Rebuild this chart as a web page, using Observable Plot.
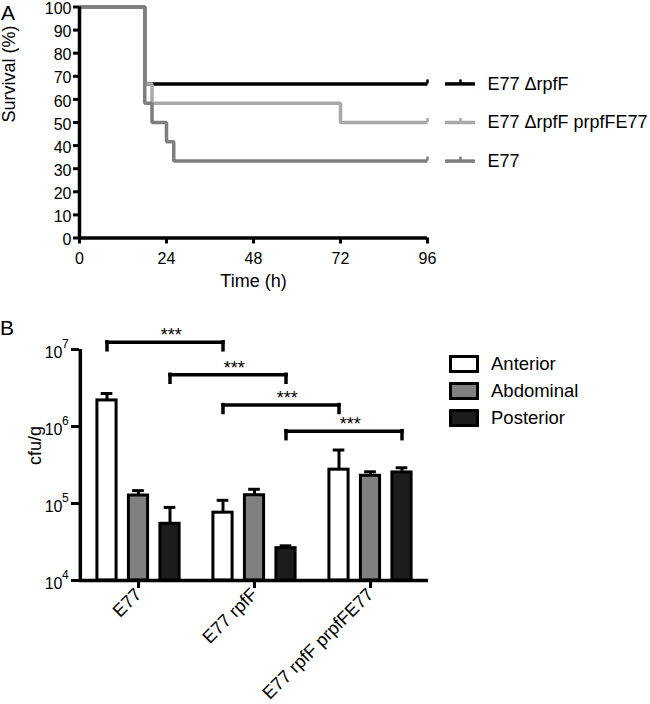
<!DOCTYPE html>
<html>
<head>
<meta charset="utf-8">
<script src="https://cdn.jsdelivr.net/npm/d3@7"></script>
<script src="https://cdn.jsdelivr.net/npm/@observablehq/plot@0.6"></script>
<style>
  body { margin: 0; background: #fff; font-family: "Liberation Sans", Arial, sans-serif; color: #000; }
  #wrap { position: relative; width: 650px; height: 704px; overflow: hidden; background: #fff; }
  #panelA { position: absolute; left: 0; top: 0; }
  #panelB { position: absolute; left: 0; top: 300px; }
  .plabel { position: absolute; font-size: 21px; line-height: 1; }
  .legrow { position: absolute; left: 449px; height: 18px; display: flex; align-items: center; }
  .sw { width: 30px; height: 18px; box-sizing: border-box; border: 3px solid #000; }
  .lt { margin-left: 12px; font-size: 18.5px; line-height: 18px; white-space: nowrap; }
</style>
</head>
<body>
<div id="wrap">
  <div class="plabel" style="left:1px;top:2px">A</div>
  <div id="panelA"></div>
  <div class="plabel" style="left:0px;top:317px">B</div>
  <div id="panelB"></div>
  <div id="legendB"></div>
</div>
<script>
// ---------- Panel A data: survival ----------
const survivalStrains = ["E77 ΔrpfF", "E77 ΔrpfF prpfFE77", "E77"];
const survivalColors = ["#000000", "#a9a9a9", "#7e7e7e"];
const timeRpfF = [0, 18, 96];
const survRpfF = [100, 66.7, 66.7];
const timeComp = [0, 18, 20, 72, 96];
const survComp = [100, 66.7, 58.3, 50, 50];
const timeE77 = [0, 18, 20, 24, 26, 96];
const survE77 = [100, 58.3, 50, 41.7, 33.3, 33.3];
const timeTicks = [0, 24, 48, 72, 96];
const survivalTicks = [0, 10, 20, 30, 40, 50, 60, 70, 80, 90, 100];

// ---------- Panel B data: cfu/g ----------
const groups = ["E77", "E77 rpfF", "E77 rpfF prpfFE77"];
const regions = ["Anterior", "Abdominal", "Posterior"];
const regionColors = ["#ffffff", "#808080", "#1c1c1c"];
const anteriorMean = [2.18e6, 7.6e4, 2.75e5];
const anteriorErr = [2.68e6, 1.10e5, 4.95e5];
const abdominalMean = [1.27e5, 1.28e5, 2.29e5];
const abdominalErr = [1.47e5, 1.53e5, 2.58e5];
const posteriorMean = [5.45e4, 2.63e4, 2.53e5];
const posteriorErr = [8.9e4, 2.82e4, 2.91e5];
const cfuTicks = [1e4, 1e5, 1e6, 1e7];
const bracketFrom = ["E77", "E77", "E77 rpfF", "E77 rpfF"];
const bracketTo = ["E77 rpfF", "E77 rpfF", "E77 rpfF prpfFE77", "E77 rpfF prpfFE77"];
const bracketRegion = ["Anterior", "Posterior", "Anterior", "Posterior"];
const bracketLevel = [1.24e7, 4.7e6, 1.9e6, 8.7e5];
const bracketLabel = ["***", "***", "***", "***"];

const FONT = '"Liberation Sans", Arial, sans-serif';

// ---------- Build panel A ----------
const seriesT = [timeRpfF, timeComp, timeE77];
const seriesS = [survRpfF, survComp, survE77];
const survRows = survivalStrains.flatMap((name, i) =>
  seriesT[i].map((t, j) => ({strain: name, t, s: seriesS[i][j]})));
const ends = survivalStrains.map((name, i) => ({
  strain: name,
  t: seriesT[i][seriesT[i].length - 1],
  s: seriesS[i][seriesS[i].length - 1]
}));

const plotA = Plot.plot({
  width: 650, height: 300,
  marginLeft: 79, marginRight: 223, marginTop: 6.5, marginBottom: 62.5,
  style: {fontFamily: FONT, fontSize: "16px", color: "#000", background: "transparent", overflow: "visible"},
  x: {domain: [0, 96], label: null},
  y: {domain: [0, 100], label: null},
  color: {domain: survivalStrains, range: survivalColors},
  marks: [
    Plot.axisY({ticks: survivalTicks, tickSize: 6, strokeWidth: 3, tickFormat: () => "", label: null}),
    Plot.axisY({ticks: survivalTicks, tickSize: 0, tickPadding: 8, dy: 2, label: null}),
    Plot.axisX({ticks: timeTicks, tickSize: 6, tickPadding: 9, strokeWidth: 3, label: null}),
    Plot.line(survRows, {x: "t", y: "s", z: "strain", stroke: "strain", curve: "step-after",
      strokeWidth: 3.5, strokeLinejoin: "miter", strokeLinecap: "butt"}),
    Plot.ruleX(ends, {x: "t", y1: "s", y2: "s", insetTop: -4, stroke: "strain", strokeWidth: 2.5}),
    // legend, aligned with the ends of the curves
    Plot.ruleY(ends, {y: "s", x1: "t", x2: "t", insetLeft: 18, insetRight: -48, stroke: "strain", strokeWidth: 3.5}),
    Plot.ruleX(ends, {x: "t", y1: "s", y2: "s", insetTop: -4, dx: 33, stroke: "strain", strokeWidth: 2.5}),
    Plot.text(ends, {x: "t", y: "s", text: "strain", dx: 60, textAnchor: "start", fontSize: 18, fill: "#000"}),
    Plot.ruleX([0], {strokeWidth: 3.5}),
    Plot.ruleY([0], {strokeWidth: 3.5}),
    Plot.text(["Time (h)"], {text: d => d, frameAnchor: "bottom", dy: 49, fontSize: 18}),
    Plot.text(["Survival (%)"], {text: d => d, frameAnchor: "left", dx: -70, rotate: -90, fontSize: 18})
  ]
});
document.getElementById("panelA").appendChild(plotA);

// ---------- Build panel B ----------
const means = [anteriorMean, abdominalMean, posteriorMean];
const errs = [anteriorErr, abdominalErr, posteriorErr];
const barRows = regions.flatMap((r, k) =>
  groups.map((g, i) => ({group: g, region: r, mean: means[k][i], err: errs[k][i]})));
const bk = bracketFrom.map((f, i) => ({from: f, to: bracketTo[i], region: bracketRegion[i], y: bracketLevel[i], label: bracketLabel[i]}));

const mlB = 79, mrB = 222;
const bw = (650 - mlB - mrB) / groups.length;
const offs = [-31.5, 0, 31.5];
const barW = 19.5, capW = 12;

const barMarks = regions.flatMap((r, k) => {
  const rows = barRows.filter(d => d.region === r);
  return [
    Plot.ruleX(rows, {x: "group", y1: "mean", y2: "err", dx: offs[k], strokeWidth: 3}),
    Plot.tickY(rows, {x: "group", y: "err", dx: offs[k], insetLeft: (bw - capW) / 2, insetRight: (bw - capW) / 2, strokeWidth: 3}),
    Plot.barY(rows, {x: "group", y1: 1e4, y2: "mean", dx: offs[k], fill: regionColors[k], stroke: "#000",
      strokeWidth: 3, insetLeft: (bw - barW) / 2, insetRight: (bw - barW) / 2})
  ];
});
const bracketMarks = regions.flatMap((r, k) => {
  const rows = bk.filter(d => d.region === r);
  if (!rows.length) return [];
  return [
    Plot.link(rows, {x1: "from", x2: "to", y1: "y", y2: "y", dx: offs[k], strokeWidth: 3.5, strokeLinecap: "square"}),
    Plot.ruleX(rows, {x: "from", y1: "y", y2: "y", insetBottom: -8, dx: offs[k], strokeWidth: 3.5, strokeLinecap: "square"}),
    Plot.ruleX(rows, {x: "to", y1: "y", y2: "y", insetBottom: -8, dx: offs[k], strokeWidth: 3.5, strokeLinecap: "square"}),
    Plot.text(rows, {x: "from", y: "y", text: "label", dx: offs[k] + bw / 2 + 6, dy: -1, lineAnchor: "bottom", fontSize: 18})
  ];
});

const plotB = Plot.plot({
  width: 650, height: 404,
  marginLeft: mlB, marginRight: mrB, marginTop: 49, marginBottom: 124,
  style: {fontFamily: FONT, fontSize: "18px", color: "#000", background: "transparent", overflow: "visible"},
  x: {domain: groups, padding: 0, label: null},
  y: {type: "log", domain: [1e4, 1e7], label: null},
  marks: [
    ...barMarks,
    ...bracketMarks,
    Plot.axisX({tickRotate: -45, tickSize: 8, tickPadding: 3, strokeWidth: 3, label: null}),
    Plot.axisY({ticks: cfuTicks, tickSize: 8, strokeWidth: 3, tickFormat: () => "", label: null}),
    Plot.text(cfuTicks, {y: d => d, text: () => "10", frameAnchor: "left", textAnchor: "end", dx: -17, dy: 3, fontSize: 16}),
    Plot.text(cfuTicks, {y: d => d, text: d => String(Math.round(Math.log10(d))), frameAnchor: "left", textAnchor: "start", dx: -17.5, dy: -5, fontSize: 12}),
    Plot.ruleY([1e4], {strokeWidth: 3.5}),
    Plot.ruleX([groups[0]], {dx: -bw / 2, strokeWidth: 3.5}),
    Plot.text(["cfu/g"], {text: d => d, frameAnchor: "left", dx: -44, rotate: -90, fontSize: 18})
  ]
});
document.getElementById("panelB").appendChild(plotB);

// ---------- Legend B ----------
const legendB = document.getElementById("legendB");
regions.forEach((r, k) => {
  const row = document.createElement("div");
  row.className = "legrow";
  row.style.top = (355 + 27 * k) + "px";
  const sw = document.createElement("span");
  sw.className = "sw";
  sw.style.background = regionColors[k];
  const lt = document.createElement("span");
  lt.className = "lt";
  lt.textContent = r;
  row.appendChild(sw);
  row.appendChild(lt);
  legendB.appendChild(row);
});
</script>
</body>
</html>
